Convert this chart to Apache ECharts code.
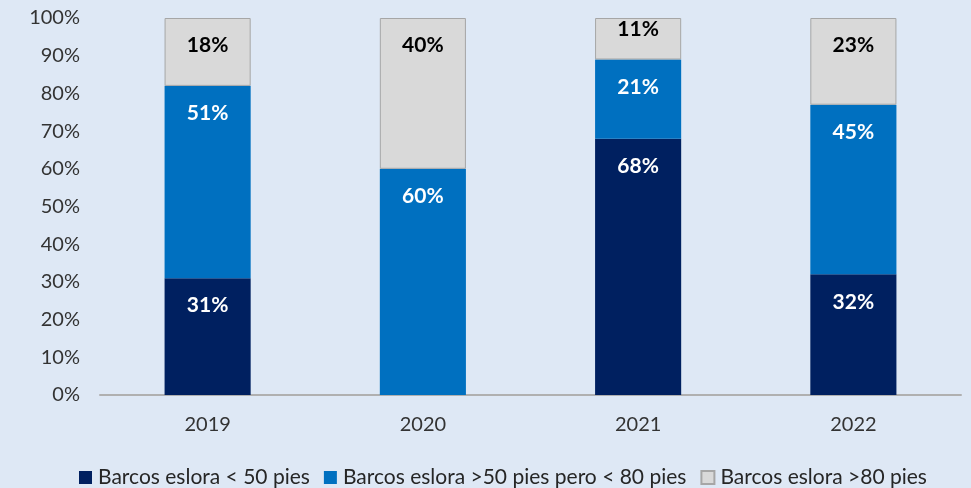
<!DOCTYPE html>
<html>
<head>
<meta charset="utf-8">
<script src="https://cdn.jsdelivr.net/npm/echarts@6/dist/echarts.min.js"></script>
<style>
  html, body { margin: 0; padding: 0; background: #dee8f5; }
  #chart { width: 971px; height: 488px; }
</style>
</head>
<body>
<div id="chart"></div>
<script>
// datos (%)
var years = ['2019', '2020', '2021', '2022'];
var menos50 = [31, 0, 68, 32];
var entre50y80 = [51, 60, 21, 45];
var mas80 = [18, 40, 11, 23];
var yTicks = [0, 10, 20, 30, 40, 50, 60, 70, 80, 90, 100];

var fontName = 'Lato';

function labelFor(color) {
    return {
        show: true,
        position: 'insideTop',
        distance: 17,
        color: color,
        fontFamily: fontName,
        fontWeight: 'bold',
        fontSize: 21,
        formatter: function (p) { return p.value ? p.value + '%' : ''; }
    };
}

// segmentos pequeños: etiqueta mas pegada al borde superior
function toData(arr) {
    return arr.map(function (v) {
        if (v > 0 && v < 15) {
            return { value: v, label: { distance: 1 } };
        }
        return v;
    });
}

var chart = echarts.init(document.getElementById('chart'));
var option = {
    backgroundColor: '#dee8f5',
    animation: false,
    grid: { left: 100, right: 10, top: 18, bottom: 93 },
    legend: {
        top: 462,
        left: 74,
        itemWidth: 13,
        itemHeight: 13,
        itemGap: 14,
        icon: 'rect',
        textStyle: { fontFamily: fontName, fontSize: 21, color: '#262626', padding: [0, 0, 0, 1] },
        data: ['Barcos eslora < 50 pies', 'Barcos eslora >50 pies pero < 80 pies', 'Barcos eslora >80 pies']
    },
    xAxis: {
        type: 'category',
        data: years,
        axisLine: { lineStyle: { color: '#b0b0b0', width: 2 } },
        axisTick: { show: false },
        axisLabel: { margin: 20, fontFamily: fontName, fontSize: 20, color: '#333333' }
    },
    yAxis: {
        type: 'value',
        min: yTicks[0],
        max: yTicks[yTicks.length - 1],
        interval: yTicks[1] - yTicks[0],
        axisLine: { show: false },
        axisTick: { show: false },
        splitLine: { show: false },
        axisLabel: { margin: 20, fontFamily: fontName, fontSize: 20, color: '#333333', formatter: '{value}%' }
    },
    series: [
        {
            name: 'Barcos eslora < 50 pies',
            type: 'bar',
            stack: 'total',
            barWidth: '40%',
            itemStyle: { color: '#002060' },
            label: labelFor('#ffffff'),
            data: toData(menos50)
        },
        {
            name: 'Barcos eslora >50 pies pero < 80 pies',
            type: 'bar',
            stack: 'total',
            barWidth: '40%',
            itemStyle: { color: '#0070c0' },
            label: labelFor('#ffffff'),
            data: toData(entre50y80)
        },
        {
            name: 'Barcos eslora >80 pies',
            type: 'bar',
            stack: 'total',
            barWidth: '40%',
            itemStyle: { color: '#d9d9d9', borderColor: '#a6a6a6', borderWidth: 1 },
            label: labelFor('#000000'),
            data: toData(mas80)
        }
    ]
};
chart.setOption(option);
</script>
</body>
</html>
